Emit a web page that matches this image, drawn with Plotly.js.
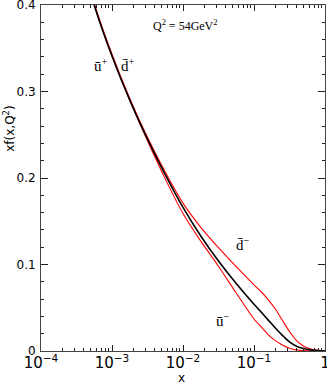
<!DOCTYPE html>
<html>
<head>
<meta charset="utf-8">
<script src="https://cdn.plot.ly/plotly-3.0.1.min.js"></script>
<style>
  html, body { margin: 0; padding: 0; background: #fff; }
  #chart { width: 327px; height: 384px; }
</style>
</head>
<body>
<div id="chart"></div>
<script>
// x grid shared by the three curves
const xVals = [3.98e-4, 5.62e-4, 1e-3, 1.78e-3, 3.16e-3, 5.62e-3, 0.01, 0.0178, 0.0316, 0.0562, 0.1, 0.126, 0.158, 0.2, 0.251, 0.316, 0.398, 0.501, 0.631, 0.794, 1];

// u+ / d+ (black, same at this scale)
const yPlus   = [0.445, 0.400, 0.341, 0.290, 0.245, 0.204, 0.166, 0.133, 0.104, 0.078, 0.054, 0.045, 0.036, 0.0265, 0.018, 0.0105, 0.0055, 0.0028, 0.0012, 0.0004, 0];
// dbar- (upper red)
const yDMinus = [0.447, 0.402, 0.343, 0.292, 0.247, 0.207, 0.171, 0.143, 0.1195, 0.0975, 0.0765, 0.0685, 0.0595, 0.0485, 0.0355, 0.0225, 0.012, 0.0055, 0.0022, 0.0008, 0];
// ubar- (lower red)
const yUMinus = [0.445, 0.400, 0.341, 0.290, 0.243, 0.199, 0.159, 0.127, 0.098, 0.067, 0.037, 0.028, 0.019, 0.012, 0.007, 0.0033, 0.0013, 0.0004, 0.0001, 0, 0];

const serif = "Liberation Serif, Times New Roman, serif";
const sans = "DejaVu Sans, Arial, sans-serif";

var data = [
  { x: xVals, y: yDMinus, mode: "lines", line: { color: "#ff0000", width: 1.1, shape: "spline", smoothing: 0.6 }, hoverinfo: "skip" },
  { x: xVals, y: yUMinus, mode: "lines", line: { color: "#ff0000", width: 1.1, shape: "spline", smoothing: 0.6 }, hoverinfo: "skip" },
  { x: xVals, y: yPlus, mode: "lines", line: { color: "#000000", width: 1.6, shape: "spline", smoothing: 0.6 }, hoverinfo: "skip" },
];

var layout = {
  width: 327,
  height: 384,
  margin: { l: 41, r: 2, t: 5, b: 33 },
  showlegend: false,
  plot_bgcolor: "#fff",
  paper_bgcolor: "#fff",
  font: { family: sans, size: 12, color: "#000" },
  xaxis: {
    type: "log",
    range: [-4, 0],
    dtick: 1,
    exponentformat: "power",
    showgrid: false,
    zeroline: false,
    showline: true,
    linecolor: "#444",
    linewidth: 1,
    mirror: "allticks",
    ticks: "inside",
    ticklen: 6,
    tickcolor: "#222",
    minor: { dtick: "D1", ticks: "inside", ticklen: 3, tickcolor: "#222", showgrid: false },
    tickfont: { family: sans, size: 12 },
    ticklabelstandoff: -1,
    ticklabeloverflow: "allow",
    fixedrange: true,
  },
  yaxis: {
    range: [0, 0.40001],
    dtick: 0.1,
    showgrid: false,
    zeroline: false,
    showline: true,
    linecolor: "#444",
    linewidth: 1,
    mirror: "allticks",
    ticks: "inside",
    ticklen: 7,
    tickcolor: "#222",
    minor: { dtick: 0.02, ticks: "inside", ticklen: 3, tickcolor: "#222", showgrid: false },
    tickfont: { family: sans, size: 12 },
    ticklabelstandoff: 2,
    ticklabeloverflow: "allow",
    fixedrange: true,
  },
  annotations: [
    { xref: "paper", yref: "paper", x: 0.507, y: 0.942, xanchor: "center", yanchor: "middle", text: "Q<sup>2</sup> = 54GeV<sup>2</sup>", showarrow: false, font: { family: serif, size: 12 } },
    { xref: "paper", yref: "paper", x: 0.211, y: 0.827, xanchor: "center", yanchor: "middle", text: "ū<sup>+</sup>", showarrow: false, font: { family: serif, size: 15 } },
    { xref: "paper", yref: "paper", x: 0.306, y: 0.827, xanchor: "center", yanchor: "middle", text: "d̄<sup>+</sup>", showarrow: false, font: { family: serif, size: 15 } },
    { xref: "paper", yref: "paper", x: 0.711, y: 0.309, xanchor: "center", yanchor: "middle", text: "d̄<sup>−</sup>", showarrow: false, font: { family: serif, size: 15 } },
    { xref: "paper", yref: "paper", x: 0.641, y: 0.0896, xanchor: "center", yanchor: "middle", text: "ū<sup>−</sup>", showarrow: false, font: { family: serif, size: 15 } },
    { xref: "paper", yref: "paper", x: 0.493, y: -0.078, xanchor: "center", yanchor: "middle", text: "x", showarrow: false, font: { family: sans, size: 12 } },
    { xref: "paper", yref: "paper", x: -0.113, y: 0.642, xanchor: "center", yanchor: "middle", text: "xf(x,Q<sup>2</sup>)", textangle: -90, showarrow: false, font: { family: sans, size: 12 } },
  ],
};

var config = { displayModeBar: false, staticPlot: true };

Plotly.newPlot(document.getElementById("chart"), data, layout, config);
</script>
</body>
</html>
